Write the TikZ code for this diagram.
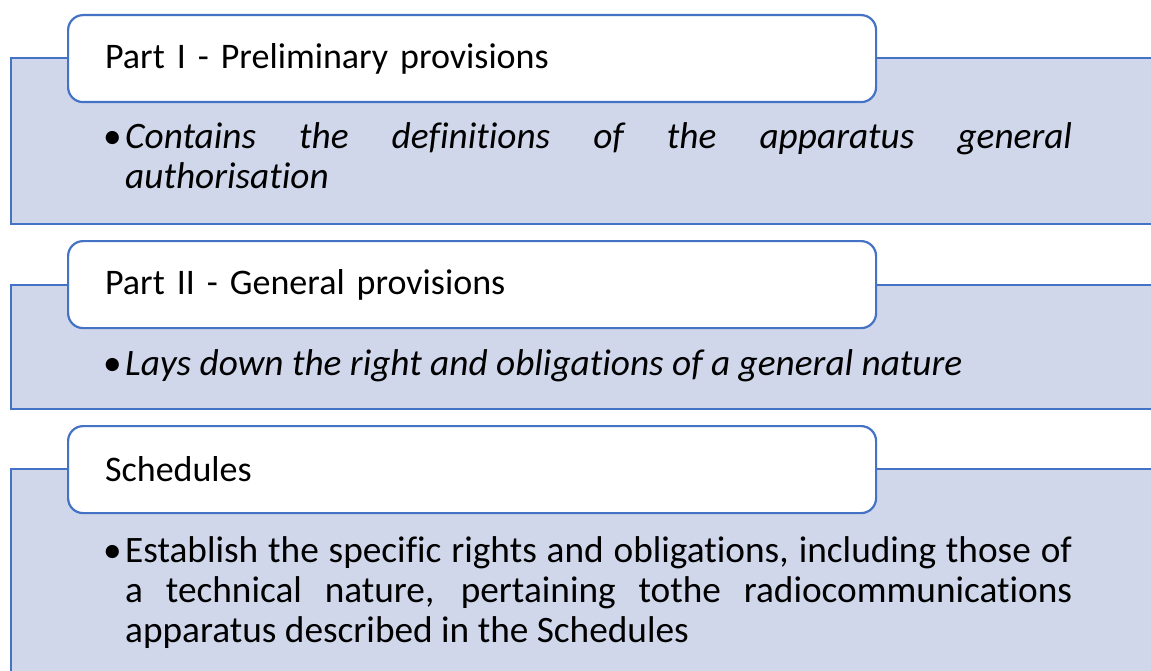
\documentclass[tikz,border=0pt]{standalone}
\usepackage{fontspec}
\setmainfont[Ligatures=NoCommon]{Carlito}
\usepackage{xcolor}
\usepackage{tikz}
\definecolor{accentcolor}{RGB}{68,114,196}
\definecolor{bandfill}{RGB}{208,215,235}
\newcommand{\bitem}[1]{\hangindent=22pt\relax\hangafter=1\relax\noindent\strut\makebox[22pt][l]{\textbullet}#1\par}
\newcommand{\hdrfont}{\fontsize{36}{40}\selectfont}
\newcommand{\txtfont}{\fontsize{37.3}{40}\selectfont}
\tikzset{
  band/.style={draw=accentcolor, line width=2.2pt, fill=bandfill, anchor=north west, minimum width=1170pt, inner sep=0pt},
  hdr/.style={draw=accentcolor, line width=2.2pt, fill=white, rounded corners=15pt, anchor=north west, minimum height=87pt, text width=734pt, inner xsep=37pt, inner ysep=0pt, align=left, font=\hdrfont},
  txt/.style={anchor=north west, text width=969pt, inner sep=0pt, align=justify, font=\txtfont,
    execute at begin node={\spaceskip=0.226em plus 1em\relax\hyphenpenalty=10000\relax\tolerance=10000\relax}},
}

\begin{document}
\begin{tikzpicture}[x=1pt,y=-1pt]
\clip (0,0) rectangle (1151,671);
\node[band, minimum height=166pt] (b1) at (10,57) {};
\node[band, minimum height=124pt] (b2) at (10,284) {};
\node[band, minimum height=222pt] (b3) at (10,468) {};
\node[hdr] (t1) at (67,14)  {Part I - Preliminary provisions};
\node[hdr] (t2) at (67,240) {Part II - General provisions};
\node[hdr] (t3) at (67,425) {Schedules};
\node[txt] (d1) at (103,120) {\bitem{\itshape Contains the definitions of the apparatus general authorisation}};
\node[txt] (d2) at (103,347) {\bitem{\itshape Lays down the right and obligations of a general nature}};
\node[txt] (d3) at (103,534) {\bitem{Establish the specific rights and obligations, including those of\linebreak a technical nature, pertaining tothe radiocommunications apparatus described in the Schedules}};
\end{tikzpicture}
\end{document}
